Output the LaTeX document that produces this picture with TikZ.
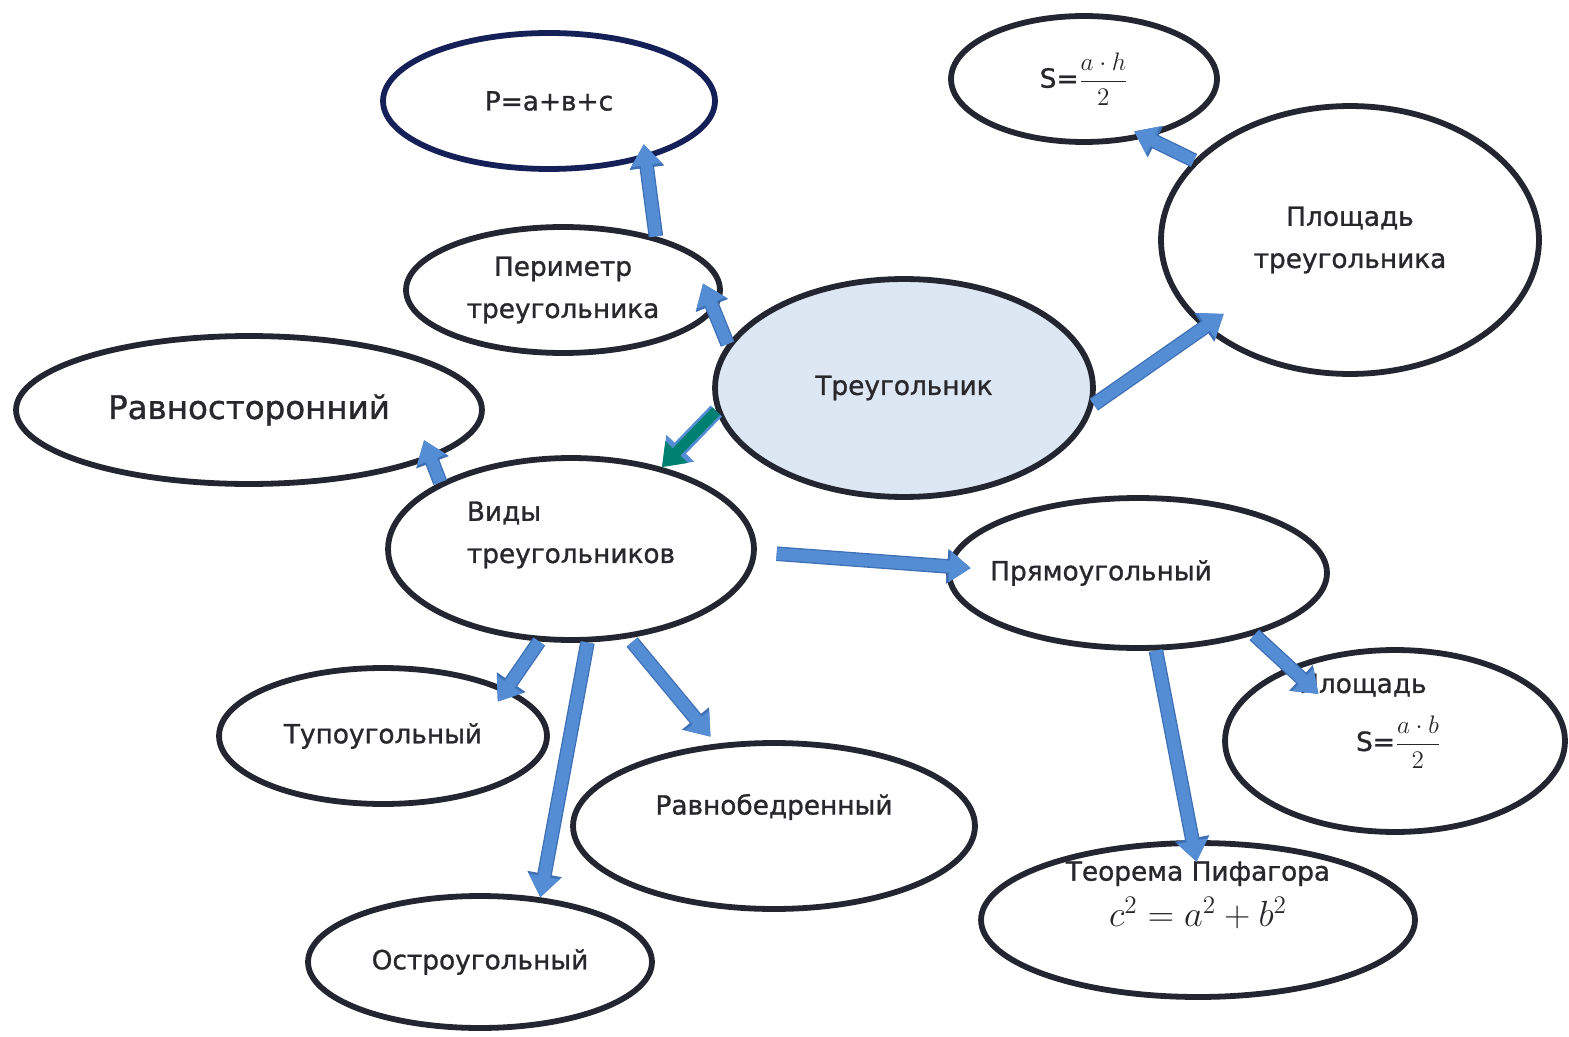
\documentclass[tikz,border=0pt]{standalone}
\usepackage{fontspec}
\setmainfont{DejaVu Sans}[BoldFont={DejaVu Sans}, BoldFeatures={FakeBold=1.1}]
\usetikzlibrary{shapes.geometric, arrows.meta}
\definecolor{inkgray}{RGB}{40,40,44}
\definecolor{rimgray}{RGB}{35,38,48}
\definecolor{rimnavy}{RGB}{22,32,88}
\definecolor{corefill}{RGB}{221,231,243}
\definecolor{arrowblue}{RGB}{84,141,212}
\definecolor{arrowedge}{RGB}{62,112,182}
\definecolor{arrowteal}{RGB}{0,128,112}

\begin{document}
\begin{tikzpicture}[
    x=0.02cm, y=-0.02cm,
    % Styles
    oval/.style={
        ellipse, draw=rimgray, line width=3.3pt, fill=white,
        inner sep=0pt, text=inkgray, align=center,
        font=\fontsize{15}{24}\selectfont\bfseries
    },
    labeltext/.style={
        text=inkgray, align=left, inner sep=0pt,
        font=\fontsize{15}{24}\selectfont\bfseries
    },
    blockarrow/.style={
        line width=6.8pt, draw=arrowblue, -{Triangle[width=17pt,length=12pt]},
        preaction={draw=arrowedge, line width=8.3pt, -{Triangle[width=19pt,length=13.5pt]}}
    },
    tealarrow/.style={
        line width=6pt, draw=arrowteal, -{Triangle[width=17pt,length=12pt]},
        preaction={draw=arrowblue, line width=9pt, -{Triangle[width=21pt,length=15pt]}}
    }
]
    \useasboundingbox (0,0) rectangle (1569,1037);

    % --- Ellipses ---
    \node[oval, draw=rimnavy, minimum width=6.64cm, minimum height=2.72cm] (perimf) at (549,101) {P=a+в+c};
    \node[oval, minimum width=5.32cm, minimum height=2.52cm] (areaf) at (1084,79)
        {S=\fontsize{15}{17}\selectfont$\displaystyle\frac{a\cdot h}{2}$};
    \node[oval, minimum width=7.56cm, minimum height=5.36cm] (area) at (1350,240) {Площадь\\треугольника};
    \node[oval, minimum width=6.28cm, minimum height=2.52cm] (perim) at (563,290) {Периметр\\треугольника};
    \node[oval, fill=corefill, minimum width=7.56cm, minimum height=4.36cm] (treug) at (904,388) {Треугольник};
    \node[oval, font=\fontsize{18.5}{22}\selectfont\bfseries, minimum width=9.32cm, minimum height=2.96cm] (equi) at (249,410) {Равносторонний};
    \node[oval, minimum width=7.32cm, minimum height=3.64cm,
        label={[labeltext, yshift=0.28cm]center:Виды\\треугольников}] (types) at (571,549) {};
    \node[oval, minimum width=7.56cm, minimum height=3.0cm,
        label={[labeltext, xshift=-0.74cm]center:Прямоугольный}] (right) at (1138,573) {};
    \node[oval, minimum width=6.56cm, minimum height=2.72cm] (obtuse) at (383,736) {Тупоугольный};
    \node[oval, minimum width=8.04cm, minimum height=3.32cm,
        label={[labeltext, yshift=0.38cm]center:Равнобедренный}] (isos) at (774,826) {};
    \node[oval, minimum width=6.88cm, minimum height=2.64cm] (acute) at (480,962) {Остроугольный};
    \node[oval, minimum width=6.8cm, minimum height=3.64cm,
        label={[labeltext, xshift=-0.5cm, yshift=0.4cm]center:Площадь\\[9pt]\hspace*{1.14cm}S=\fontsize{15}{17}\selectfont$\displaystyle\frac{a\cdot b}{2}$}] (rarea) at (1395,741) {};
    \node[oval, minimum width=8.68cm, minimum height=3.08cm,
        label={[labeltext, align=center, yshift=0.5cm]center:Теорема Пифагора\\[2pt]\fontsize{21}{24}\selectfont$c^2=a^2+b^2$}] (pyth) at (1198,920) {};

    % --- Block arrows ---
    \draw[blockarrow, shorten >=-0.3cm] (perim.30) -- (perimf.-31);
    \draw[blockarrow, shorten >=-0.6cm] (treug.166) -- (perim.-8);
    \draw[blockarrow, shorten >=-0.5cm] (treug.-5) -- (area.211);
    \draw[blockarrow, shorten >=-0.28cm] (area.153) -- (areaf.-43);
    \draw[tealarrow] (treug.187) -- (types.42);
    \draw[blockarrow, shorten >=-0.4cm] (types.153) -- (equi.-15);
    \draw[blockarrow, shorten <=0.4cm, shorten >=-0.48cm] (types.-1) -- (right.178);
    \draw[blockarrow, shorten >=-0.32cm] (types.251) -- (obtuse.21);
    \draw[blockarrow] (types.-80) -- (acute.47);
    \draw[blockarrow, shorten <=0.1cm, shorten >=0.18cm] (types.-57) -- (isos.125);
    \draw[blockarrow, shorten >=-0.8cm] (right.-28) -- (rarea.145);
    \draw[blockarrow, shorten >=-0.44cm] (right.-77) -- (pyth.94);
\end{tikzpicture}
\end{document}
